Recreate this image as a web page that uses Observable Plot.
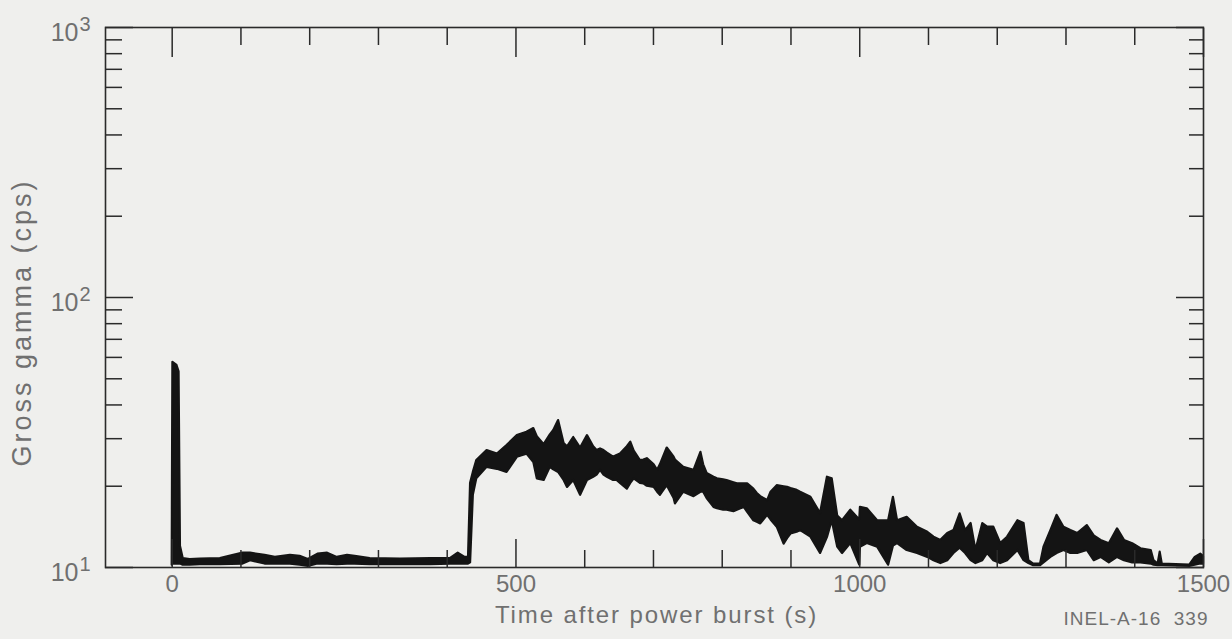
<!DOCTYPE html>
<html><head><meta charset="utf-8">
<script src="https://cdn.jsdelivr.net/npm/d3@7"></script>
<script src="https://cdn.jsdelivr.net/npm/@observablehq/plot@0.6"></script>
<style>
html,body{margin:0;padding:0;background:#efefed;}
#chart{width:1232px;height:639px;}
</style></head><body><div id="chart"></div>
<script>
// time after power burst (s)
const time = [0,1,7,10,12,16,26,41,70,103,114,135,150,172,186,198,212,226,240,255,266,288,332,376,405,416,426,431,434,438,
443,458,473,487,502,516,526,531,541,550,555,562,570,575,584,594,604,613,618,623,628,633,642,647,652,662,667,672,681,686,691,701,706,710,720,730,732,744,759,769,773,778,788,793,802,807,817,822,832,837,846,851,856,866,871,880,890,895,900,909,914,
929,943,953,960,968,975,987,1000,1001,1011,1026,1042,1049,1055,1069,1084,1099,1108,1118,1128,1137,1146,1154,1162,1169,1179,1186,1195,1205,1215,1230,1239,1246,1253,1263,1268,1278,1287,1297,1307,1317,1331,1341,1351,1363,1375,1385,1397,1409,1424,1428,1434,1437,1440,1480,1488,1496,1500];
// lower edge of the noisy trace (cps)
const gammaLow = [10.2,10.3,10.3,10.3,10.3,10.2,10.2,10.25,10.25,10.3,10.6,10.3,10.3,10.3,10.2,10.1,10.3,10.3,10.25,10.3,10.3,10.25,10.25,10.25,10.3,10.3,10.3,10.3,10.4,18.5,
21.3,23.5,23.1,22.5,25.6,26.3,24.5,21.3,21.0,23.5,23.0,22.5,21.0,19.8,21.0,18.5,21.0,21.6,22.0,22.9,22.0,21.6,21.0,21.0,20.5,19.5,20.5,21.3,20.5,20.4,20.0,19.8,19.0,18.5,20.1,18.0,17.2,19.0,18.3,19.0,19.0,18.0,16.7,16.5,16.3,16.3,16.1,16.3,16.7,16.0,14.9,14.7,14.5,15.6,15.0,14.1,12.2,12.8,13.3,13.5,13.7,
12.95,11.27,12.9,14.9,11.89,11.27,12.27,10.2,11.89,12.27,11.89,10.2,12.0,12.27,11.56,11.27,10.9,10.6,10.34,10.6,11.27,11.8,11.27,10.6,10.34,10.6,11.27,10.6,10.34,10.6,11.56,10.6,10.34,10.15,10.15,10.4,10.9,11.27,11.56,11.27,11.27,11.56,10.6,10.9,10.4,10.9,10.6,10.4,10.4,10.3,10.2,10.15,10.15,10.15,10.1,10.2,10.3,10.3];
// upper edge of the noisy trace (cps)
const gammaHigh = [10.2,57.5,56,53,12,10.8,10.7,10.75,10.8,11.3,11.3,11.1,10.9,11.1,11.0,10.7,11.2,11.3,10.9,11.1,11.0,10.8,10.75,10.8,10.8,11.3,10.9,10.9,20.5,22.5,
24.9,27.1,26.3,28.3,30.8,31.7,32.7,30.5,28.5,31.0,32.2,35.0,28.8,28.0,30.3,27.7,30.8,28.0,27.1,27.5,27.1,26.5,25.6,26.0,26.3,28.0,29.1,27.0,24.9,25.0,25.3,24.0,22.9,24.0,27.7,25.6,25.0,23.5,22.9,26.7,24.0,22.3,21.6,21.3,21.1,21.0,20.6,20.4,20.4,20.4,19.5,18.8,18.3,17.7,19.0,20.1,19.9,19.8,19.6,19.3,19.0,
18.2,15.85,21.6,21.3,15.5,14.9,16.3,15.0,16.7,16.5,14.9,14.9,18.2,14.9,15.35,14.1,13.5,12.95,12.6,13.36,13.7,15.8,13.7,14.55,11.56,14.55,14.1,14.1,12.27,12.95,14.9,14.55,10.6,10.3,10.3,11.89,13.7,15.6,14.1,13.7,13.36,14.3,13.1,12.6,12.24,13.9,12.6,12.24,11.73,11.56,10.6,10.3,11.4,10.3,10.2,10.9,11.2,11.0];

const xMajorTicks = [0, 500, 1000, 1500];
const xMinorTicks = [100,200,300,400,600,700,800,900,1100,1200,1300,1400];
const yMajorTicks = [10, 100, 1000];
const yExponents = ["1", "2", "3"];
const yMinorTicks = [20,30,40,50,60,70,80,90,200,300,400,500,600,700,800,900];
const xTitle = "Time after power burst (s)";
const yTitle = "Gross gamma (cps)";
const figureId = "INEL-A-16  339";

const rows = time.map((t, i) => ({t, lo: gammaLow[i], hi: gammaHigh[i]}));
const ink = "#2a2a2a";
const textGray = "#707070";

const chart = Plot.plot({
  width: 1232,
  height: 639,
  marginLeft: 105,
  marginRight: 29,
  marginTop: 27,
  marginBottom: 72,
  style: {background: "transparent", fontFamily: "'Liberation Sans', Arial, sans-serif", overflow: "visible"},
  x: {domain: [-97, 1500], label: null},
  y: {type: "log", domain: [10, 1000], label: null},
  marks: [
    Plot.areaY(rows, {x: "t", y1: "lo", y2: "hi", fill: "#141414", stroke: "#141414", strokeWidth: 2.2, curve: "linear"}),
    // inward ticks, bottom & top
    Plot.axisX({anchor: "bottom", ticks: xMinorTicks, tickSize: -17, tickFormat: () => "", stroke: ink, strokeWidth: 1.5, label: null}),
    Plot.axisX({anchor: "bottom", ticks: xMajorTicks, tickSize: -28, tickFormat: () => "", stroke: ink, strokeWidth: 1.5, label: null}),
    Plot.axisX({anchor: "top", ticks: xMinorTicks, tickSize: -17, tickFormat: () => "", stroke: ink, strokeWidth: 1.5, label: null}),
    Plot.axisX({anchor: "top", ticks: xMajorTicks, tickSize: -29, tickFormat: () => "", stroke: ink, strokeWidth: 1.5, label: null}),
    Plot.axisX({anchor: "bottom", ticks: xMajorTicks, tickSize: 0, tickPadding: 7, tickFormat: d => String(d), fontSize: 24, fill: textGray, label: null}),
    // inward ticks, left & right
    Plot.axisY({anchor: "left", ticks: yMinorTicks, tickSize: -17, tickFormat: () => "", stroke: ink, strokeWidth: 1.5, label: null}),
    Plot.axisY({anchor: "left", ticks: yMajorTicks, tickSize: -28, tickFormat: () => "", stroke: ink, strokeWidth: 1.5, label: null}),
    Plot.axisY({anchor: "right", ticks: yMinorTicks, tickSize: -15, tickFormat: () => "", stroke: ink, strokeWidth: 1.5, label: null}),
    Plot.axisY({anchor: "right", ticks: yMajorTicks, tickSize: -28, tickFormat: () => "", stroke: ink, strokeWidth: 1.5, label: null}),
    Plot.frame({stroke: ink, strokeWidth: 1.6}),
    // y tick labels 10^n
    Plot.text(yMajorTicks, {y: d => d, text: () => "10", frameAnchor: "left", textAnchor: "end", dx: -27, dy: 5, fontSize: 25, fill: textGray}),
    Plot.text(yMajorTicks, {y: d => d, text: (d, i) => yExponents[i], frameAnchor: "left", textAnchor: "end", dx: -15, dy: -3, fontSize: 20, fill: textGray}),
    // titles
    Plot.text([xTitle], {frameAnchor: "bottom", textAnchor: "middle", dx: 2, dy: 55, fontSize: 24, fill: textGray}),
    Plot.text([yTitle], {frameAnchor: "left", textAnchor: "middle", dx: -83, dy: 25, rotate: -90, fontSize: 27, fill: textGray}),
    Plot.text([figureId], {frameAnchor: "bottom-right", textAnchor: "end", dx: 5, dy: 57, fontSize: 19, fill: textGray})
  ]
});
const sel = d3.select(chart);
sel.selectAll("text").filter(function() { return this.textContent === xTitle; }).attr("letter-spacing", "1.9px");
sel.selectAll("text").filter(function() { return this.textContent === yTitle; }).attr("letter-spacing", "3px");
sel.selectAll("text").filter(function() { return this.textContent === figureId; }).attr("letter-spacing", "1px");
document.getElementById("chart").appendChild(chart);
</script>
</body></html>
